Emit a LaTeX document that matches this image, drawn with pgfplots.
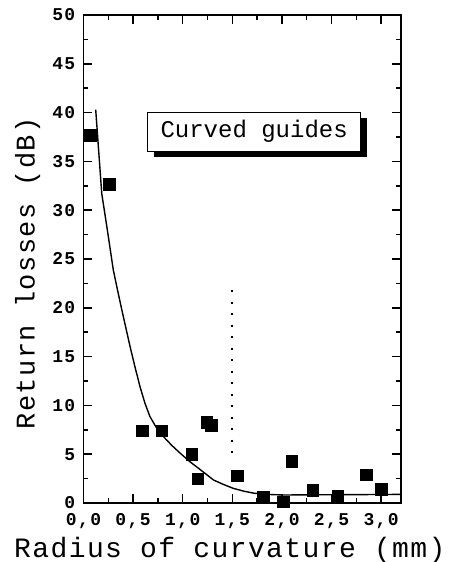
\documentclass[border=0pt]{standalone}
\usepackage{fontspec}
\setmainfont{Liberation Sans}
\setmonofont{Liberation Mono}
\newfontfamily\tickfont[LetterSpace=8]{Liberation Mono Bold}
\newfontfamily\ytickfont[LetterSpace=8]{Liberation Mono Bold}
\newfontfamily\labfont[LetterSpace=5]{Liberation Mono}
\usepackage{pgfplots}
\pgfplotsset{compat=1.18}
\usetikzlibrary{shadows}
\begin{document}
\begin{tikzpicture}
\useasboundingbox (-83.5pt,-59pt) rectangle (370.5pt,503pt);
\begin{axis}[
  scale only axis, width=317.5pt, height=488pt,
  xmin=0, xmax=3.2, ymin=0, ymax=50,
  axis line style={line width=1.8pt},
  xtick={0,0.5,...,3.0}, minor x tick num=1,
  ytick={0,5,...,50}, minor y tick num=1,
  tick align=inside, major tick length=9pt, minor tick length=5pt,
  every tick/.style={line width=1.5pt, black},
  tick pos=both,
  /pgf/number format/assume math mode=true,
  xticklabel style={font=\fontsize{18}{20}\selectfont\tickfont, /pgf/number format/fixed, /pgf/number format/fixed zerofill, /pgf/number format/precision=1, /pgf/number format/use comma, inner sep=1pt, yshift=-9pt},
  yticklabel style={font=\fontsize{18}{20}\selectfont\ytickfont, /pgf/number format/fixed, /pgf/number format/precision=0, inner sep=1pt, xshift=-7pt},
  xlabel={Radius of curvature (mm)},
  ylabel={Return losses (dB)},
  xlabel style={font=\fontsize{28}{30}\selectfont\labfont, at={(axis description cs:0.461,-0.0963)}, anchor=center},
  ylabel style={font=\fontsize{27}{30}\selectfont\labfont, at={(axis description cs:-0.176,0.471)}, anchor=center},
  clip=false,
]
\addplot[only marks, mark=square*, mark size=5.8pt, black] coordinates {
(0.066,37.7) (0.26,32.65) (0.59,7.4) (0.79,7.4) (1.09,5.0) (1.15,2.5)
(1.24,8.3) (1.29,8.0) (1.55,2.8) (1.81,0.65) (2.01,0.13) (2.10,4.3)
(2.31,1.33) (2.56,0.72) (2.85,2.9) (3.0,1.4)
};
\addplot[black, line width=1.4pt] coordinates {
(0.123,40.3) (0.184,31.7) (0.24,28.0) (0.30,23.9) (0.335,22.2) (0.386,19.8)
(0.47,16.0) (0.52,13.9) (0.57,11.9) (0.62,10.2) (0.67,8.85) (0.73,7.8) (0.806,6.8) (0.89,5.9) (0.975,5.1)
(1.07,4.25) (1.16,3.55) (1.31,2.36) (1.41,1.9) (1.51,1.5) (1.62,1.2) (1.72,1.0) (1.85,0.88) (2.02,0.82) (2.5,0.85) (3.2,0.88)
};
\addplot[black, line width=2pt, dash pattern=on 2pt off 9.5pt] coordinates {(1.5,21.8) (1.5,4.2)};
\node[draw=black, line width=1pt, fill=white, minimum width=213pt, minimum height=39pt,
  drop shadow={shadow xshift=6pt, shadow yshift=-6pt, fill=black, opacity=1},
  font=\fontsize{24}{26}\selectfont\ttfamily] at (axis cs:1.72,38.05) {Curved guides};
\end{axis}
\end{tikzpicture}
\end{document}
